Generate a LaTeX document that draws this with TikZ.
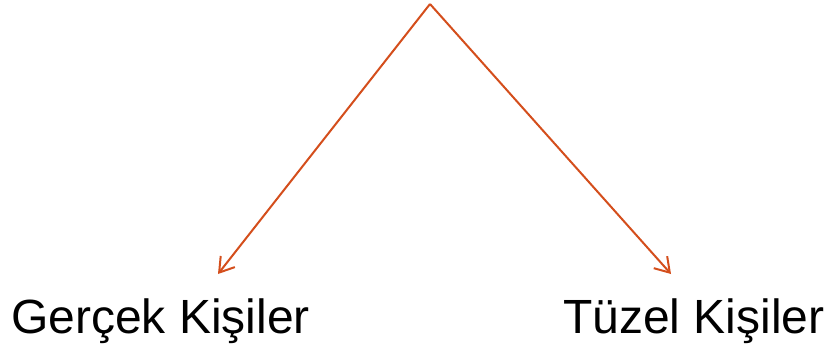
\documentclass[tikz,border=0pt]{standalone}
\usepackage{fontspec}
\setmainfont{Liberation Sans}
\usepackage{xcolor}
\usetikzlibrary{arrows.meta,positioning,calc}
\definecolor{branchred}{RGB}{212,78,28}

\begin{document}
\begin{tikzpicture}[
  x=1pt, y=-1pt,
  label/.style={inner sep=0pt, anchor=base west, font=\fontsize{48}{56}\selectfont},
  arrow/.style={-{Straight Barb[length=14pt,width=18pt]}, line width=2pt, branchred}
]
\useasboundingbox (0,0) rectangle (829,349);
\coordinate (top)  at (430,4);
\node[label] (real)  at (11,333)  {Gerçek Kişiler};
\node[label] (legal) at (563,333) {Tüzel Kişiler};
\coordinate (realtip)  at (218,274);
\coordinate (legaltip) at (671,274);
\draw[arrow] (top) -- (realtip);
\draw[arrow] (top) -- (legaltip);
\end{tikzpicture}
\end{document}
